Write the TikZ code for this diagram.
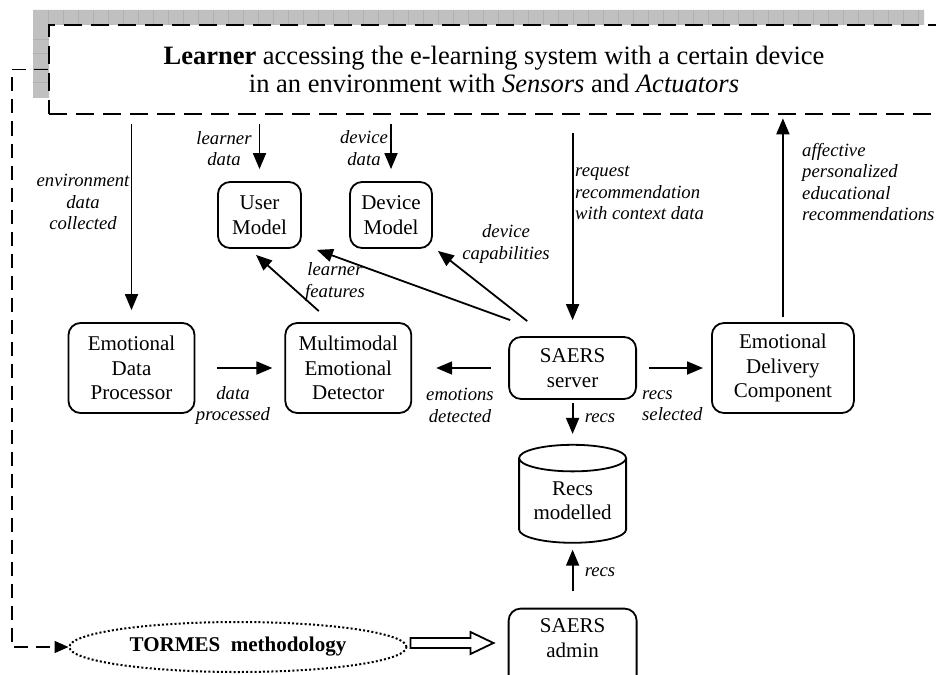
\documentclass[tikz,border=0pt]{standalone}
\usepackage{fontspec}
\setmainfont{Liberation Serif}
\usetikzlibrary{positioning, calc, arrows.meta, shapes.geometric}
\definecolor{shadowgrey}{RGB}{192,192,192}
\definecolor{gridgrey}{RGB}{176,176,176}
\tikzset{
  box/.style={draw, line width=1.8pt, rounded corners=12pt, align=center, inner sep=0pt,
    minimum width=126pt, minimum height=90pt, font=\fontsize{21}{24.5}\selectfont},
  lbl/.style={align=center, inner sep=0pt, font=\fontsize{18.7}{21.5}\selectfont\itshape},
  arr/.style={line width=1.8pt, -{Triangle[length=16pt,width=13pt]}},
  dashline/.style={line width=1.6pt, dash pattern=on 14pt off 8pt},
}

\begin{document}
\begin{tikzpicture}[x=1pt, y=-1pt]
  \useasboundingbox (0,0) rectangle (936,674);
  \fill[shadowgrey] (33,10) rectangle (924,25) (33,25) rectangle (49,98);
  \foreach \x in {48,63,...,918} \draw[gridgrey] (\x,10) -- (\x,25);
  \foreach \y in {39,53.5,...,90} \draw[gridgrey] (33,\y) -- (49,\y);

  \node[draw, line width=2.6pt, dash pattern=on 18pt off 9pt, minimum width=890pt, minimum height=89pt,
    align=center, font=\fontsize{26.5}{28}\selectfont] (learner) at (494,69.5)
    {\textbf{Learner} accessing the e-learning system with a certain device\\
     in an environment with \textit{Sensors} and \textit{Actuators}};

  \node[box] (edp) at (131.5,368) {Emotional\\Data\\Processor};
  \node[box, right=89pt of edp] (med) {Multimodal\\Emotional\\Detector};
  \node[box, right=96pt of med, minimum width=127pt, minimum height=62pt] (server) {SAERS\\server};
  \node[box, right=74pt of server, minimum width=142pt] (edc) {Emotional\\Delivery\\Component};
  \node[box, minimum width=83pt, minimum height=66pt] (um) at (259.5,215) {User\\Model};
  \node[box, minimum width=82pt, minimum height=66pt] (dm) at (391,215) {Device\\Model};
  \node[cylinder, shape border rotate=90, aspect=0.34, draw, line width=1.8pt, align=center, inner sep=0pt,
    minimum width=107pt, minimum height=98pt, font=\fontsize{21}{24.5}\selectfont,
    below=44pt of server] (recs) {Recs\\modelled};
  \node[box, below=64pt of recs, minimum width=128pt, minimum height=0pt, inner ysep=10pt,
    text depth=40pt] (admin) {SAERS\\admin};
  \node[ellipse, draw, line width=2pt, dash pattern=on 2pt off 2.2pt, minimum width=337pt, minimum height=50pt,
    font=\fontsize{21}{24}\selectfont\bfseries] (tormes) at (238,647) {TORMES\ \ methodology};

  \draw[arr, shorten <=9pt, shorten >=12pt] (learner.south -| um.north) -- (um.north);
  \draw[arr, shorten <=9pt, shorten >=12pt] (learner.south -| dm.north) -- (dm.north);
  \draw[arr, shorten <=9pt, shorten >=12pt] (learner.south -| edp.north) -- (edp.north);
  \draw[arr, shorten <=18pt, shorten >=16pt] (learner.south -| server.north) -- (server.north);
  \draw[arr, shorten <=5pt, shorten >=3pt] (edc.north) -- (edc.north |- learner.south);
  \draw[arr, shorten <=22pt, shorten >=12pt] (edp.east) -- (med.west);
  \draw[arr, shorten <=17pt, shorten >=24pt] (server.west) -- (med.east);
  \draw[arr, shorten <=12pt, shorten >=8pt] (server.east) -- (edc.west);
  \draw[arr, shorten <=3pt, shorten >=10pt] (server.south) -- (recs.north);
  \draw[arr, shorten <=17pt, shorten >=6pt] (admin.north) -- (recs.south);
  \draw[arr] ($(med.north)+(-29.5,-11)$) -- ($(um.south)+(-3.5,6)$);
  \draw[arr] ($(server.north west)+(2,-16)$) -- ($(um.south east)+(15,1)$);
  \draw[arr] ($(server.north west)+(19,-15)$) -- ($(dm.south east)+(5,2)$);
  \draw[dashline, -{Triangle[length=14pt,width=12pt]}] (learner.west) -- ++(-36,0) |- (tormes.west);
  \draw[line width=1.8pt, line join=miter] ($(tormes.east)+(3,-9)$) -- ++(60,0) -- ++(0,-6) -- ++(23,11)
    -- ++(-23,11) -- ++(0,-6) -- ++(-60,0) -- cycle;

  \node[lbl] (envlbl) at (83,202) {environment\\data\\collected};
  \node[lbl] (ldatalbl) at (224,148.5) {learner\\data};
  \node[lbl] (ddatalbl) at (364,148) {device\\data};
  \node[lbl] (caplbl) at (506,244) {device\\capabilities};
  \node[lbl] (featlbl) at (335,282) {learner\\features};
  \node[lbl, align=left, anchor=west] (reqlbl) at (575,193) {request\\recommendation\\with context data};
  \node[lbl, align=left, anchor=west] (afflbl) at (802,182) {affective\\personalized\\educational\\recommendations};
  \node[lbl] (proclbl) at (233,405.5) {data\\processed};
  \node[lbl] (emolbl) at (460,405.5) {emotions\\detected};
  \node[lbl, align=left, anchor=west] (sellbl) at (642,405.5) {recs\\selected};
  \node[lbl] (recslbl) at (600,418) {recs};
  \node[lbl] (adminlbl) at (600,572) {recs};
\end{tikzpicture}
\end{document}
